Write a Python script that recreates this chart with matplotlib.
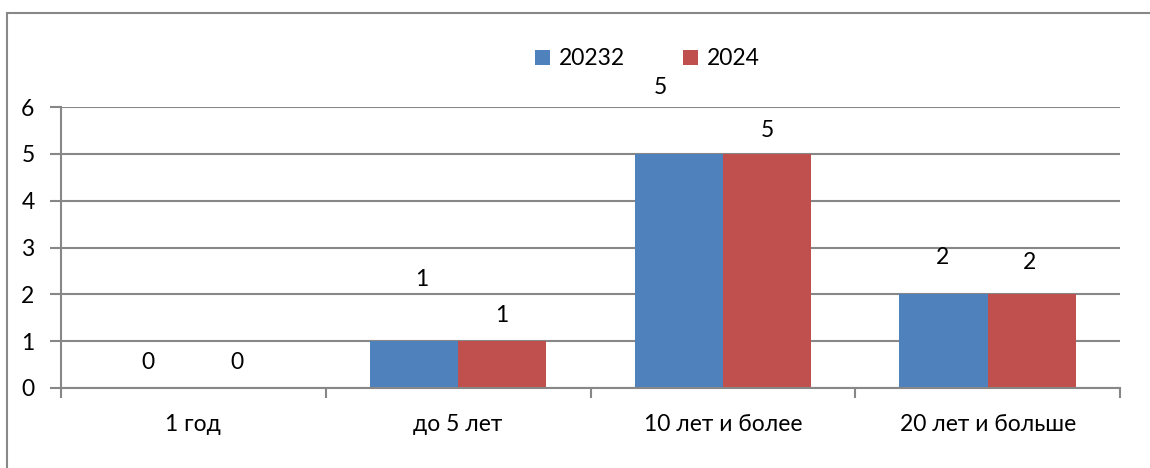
import numpy as np
import matplotlib.pyplot as plt
from matplotlib.lines import Line2D

plt.rcParams['font.family'] = ['Lato', 'DejaVu Sans']

categories = ["1 год", "до 5 лет", "10 лет и более", "20 лет и больше"]
series_names = ["20232", "2024"]
values_a = [0, 1, 5, 2]
values_b = [0, 1, 5, 2]
colors = ["#4F81BD", "#C0504D"]

# где стоят подписи значений (как на исходной картинке, сдвинуты вручную)
label_y_a = [0.55, 2.31, 6.41, 2.78]
label_y_b = [0.55, 1.54, 5.51, 2.69]
label_dx_a = [-0.005, 0.03, -0.07, -0.005]
label_dx_b = [-0.002, -0.002, 0.0, -0.007]

fs = 16.5

fig = plt.figure(figsize=(11.5, 4.68), dpi=100)
ax = fig.add_axes([0.053, 0.171, 0.921, 0.600])

x = np.arange(len(categories))
w = 1 / 3
bars_a = ax.bar(x - w / 2, values_a, w, color=colors[0], label=series_names[0])
bars_b = ax.bar(x + w / 2, values_b, w, color=colors[1], label=series_names[1])

for i in range(len(categories)):
    ax.text(x[i] - w / 2 + label_dx_a[i], label_y_a[i], str(values_a[i]),
            ha='center', va='center', fontsize=fs)
    ax.text(x[i] + w / 2 + label_dx_b[i], label_y_b[i], str(values_b[i]),
            ha='center', va='center', fontsize=fs)

grid_col = "#878787"
ax.set_xlim(-0.5, len(categories) - 0.5)
ax.set_ylim(0, 6)
ax.set_yticks(range(0, 7))
ax.yaxis.grid(True, color=grid_col, linewidth=1.5)
ax.set_axisbelow(True)
ax.set_xticks(x)
ax.set_xticklabels(categories, fontsize=fs)
ax.set_xticks(np.arange(-0.5, len(categories)), minor=True)
ax.tick_params(axis='x', which='major', length=0, pad=19)
ax.tick_params(axis='x', which='minor', length=7, width=1.5, color=grid_col)
ax.tick_params(axis='y', length=8, width=1.5, color=grid_col, labelsize=fs, pad=11)
for s in ['top', 'right']:
    ax.spines[s].set_visible(False)
for s in ['left', 'bottom']:
    ax.spines[s].set_color(grid_col)
    ax.spines[s].set_linewidth(1.5)

fig.legend(loc='center', bbox_to_anchor=(0.563, 0.874), ncol=2, frameon=False,
           fontsize=fs, handlelength=0.65, handleheight=0.65, handletextpad=0.4,
           columnspacing=2.5)

# рамка вокруг диаграммы (видны только левый и верхний края)
fig.lines.append(Line2D([0.0065, 0.0065, 1.05], [-0.05, 0.972, 0.972],
                        transform=fig.transFigure, color="#888888", linewidth=1.5,
                        solid_joinstyle='miter'))

fig.savefig("out.png", dpi=100)
